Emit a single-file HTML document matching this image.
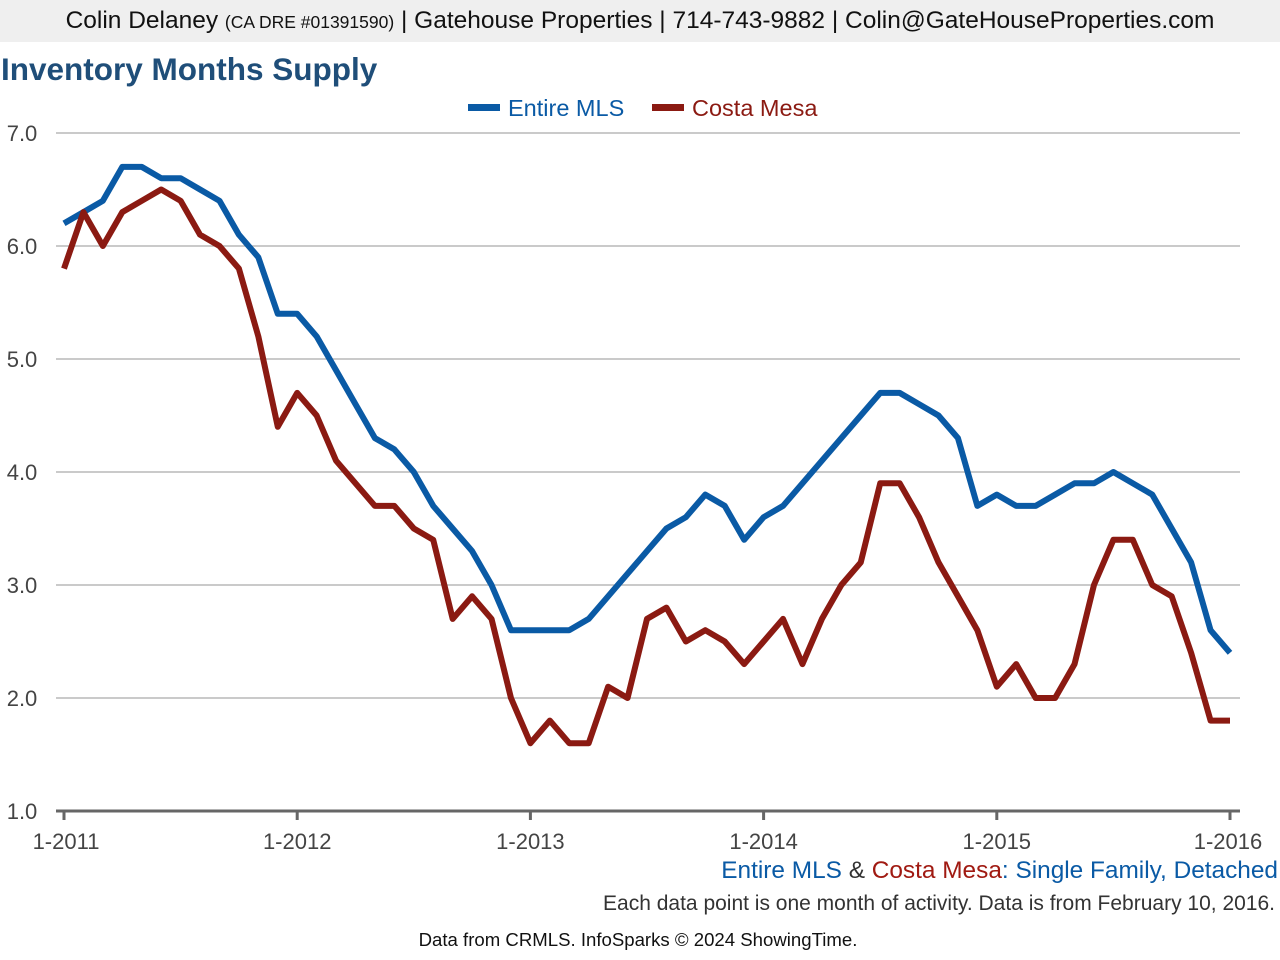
<!DOCTYPE html>
<html><head><meta charset="utf-8"><style>
body{margin:0;width:1280px;height:960px;background:#fff;font-family:"Liberation Sans",sans-serif;overflow:hidden;position:relative}
.hdr{position:absolute;left:0;top:0;width:1280px;height:42px;background:#efefef;text-align:center;font-size:24.5px;line-height:42px;color:#111;white-space:nowrap}
.t{position:absolute;left:1px;top:51px;font-size:31.5px;font-weight:bold;color:#1f4e79}
</style></head><body>
<div class="hdr">Colin Delaney <span style="font-size:17.5px">(CA DRE #01391590)</span> | Gatehouse Properties | 714-743-9882 | Colin@GateHouseProperties.com</div>
<div class="t">Inventory Months Supply</div>
<svg id="c" width="1280" height="960" style="position:absolute;left:0;top:0"></svg>
<script>
const blue=[6.2,6.3,6.4,6.7,6.7,6.6,6.6,6.5,6.4,6.1,5.9,5.4,5.4,5.2,4.9,4.6,4.3,4.2,4.0,3.7,3.5,3.3,3.0,2.6,2.6,2.6,2.6,2.7,2.9,3.1,3.3,3.5,3.6,3.8,3.7,3.4,3.6,3.7,3.9,4.1,4.3,4.5,4.7,4.7,4.6,4.5,4.3,3.7,3.8,3.7,3.7,3.8,3.9,3.9,4.0,3.9,3.8,3.5,3.2,2.6,2.4];
const red=[5.8,6.3,6.0,6.3,6.4,6.5,6.4,6.1,6.0,5.8,5.2,4.4,4.7,4.5,4.1,3.9,3.7,3.7,3.5,3.4,2.7,2.9,2.7,2.0,1.6,1.8,1.6,1.6,2.1,2.0,2.7,2.8,2.5,2.6,2.5,2.3,2.5,2.7,2.3,2.7,3.0,3.2,3.9,3.9,3.6,3.2,2.9,2.6,2.1,2.3,2.0,2.0,2.3,3.0,3.4,3.4,3.0,2.9,2.4,1.8,1.8];
const yTicks=["1.0","2.0","3.0","4.0","5.0","6.0","7.0"];
const xLabels=["1-2011","1-2012","1-2013","1-2014","1-2015","1-2016"];
const X=i=>64+i*(1230-64)/60, Y=v=>811-(v-1)*113;
const s=document.getElementById('c'),NS="http://www.w3.org/2000/svg";
function mk(t,a,txt){const e=document.createElementNS(NS,t);for(const k in a)e.setAttribute(k,a[k]);if(txt)e.textContent=txt;s.appendChild(e);return e;}
yTicks.forEach(t=>{const v=+t,y=Y(v);
 if(v>1){const g=mk('line',{x1:56,x2:1240,y1:y,y2:y,stroke:'#aaa','stroke-width':1.3});}
 const l=mk('text',{x:22,y:y+8,'text-anchor':'middle','font-size':22,fill:'#444'},t);
 });
const ax=mk('line',{x1:56,x2:1240,y1:Y(1),y2:Y(1),stroke:'#666','stroke-width':3});

xLabels.forEach((t,k)=>{const x=X(k*12);
 const tk=mk('line',{x1:x,x2:x,y1:811,y2:820,stroke:'#666','stroke-width':3});
 const l=mk('text',{x:k==0?66:k==5?1228:x,y:849,'text-anchor':'middle','font-size':22,fill:'#444'},t);
 });
[[blue,'#0a5aa5','line-entire-mls'],[red,'#8b1a12','line-costa-mesa']].forEach(([d,c,n])=>{
 const p=mk('polyline',{points:d.map((v,i)=>X(i)+','+Y(v)).join(' '),fill:'none',stroke:c,'stroke-width':6,'stroke-linejoin':'round'});
 });
</script>
<svg width="1280" height="960" style="position:absolute;left:0;top:0">
<g><rect x="468" y="104" width="32" height="7" fill="#0a5aa5"/><text x="508" y="116" font-size="23.5" fill="#0a5aa5">Entire MLS</text></g>
<g><rect x="652" y="104" width="32" height="7" fill="#8b1a12"/><text x="692" y="116" font-size="23.5" fill="#8b1a12">Costa Mesa</text></g>
<text x="1278" y="878" text-anchor="end" font-size="24.4"><tspan fill="#0a5aa5">Entire MLS</tspan><tspan fill="#333"> &amp; </tspan><tspan fill="#a01a12">Costa Mesa</tspan><tspan fill="#0a5aa5">: Single Family, Detached</tspan></text>
<text x="1275" y="910" text-anchor="end" font-size="21" fill="#333">Each data point is one month of activity. Data is from February 10, 2016.</text>
<text x="638" y="946" text-anchor="middle" font-size="18.6" fill="#111">Data from CRMLS. InfoSparks © 2024 ShowingTime.</text>
</svg>
</body></html>
